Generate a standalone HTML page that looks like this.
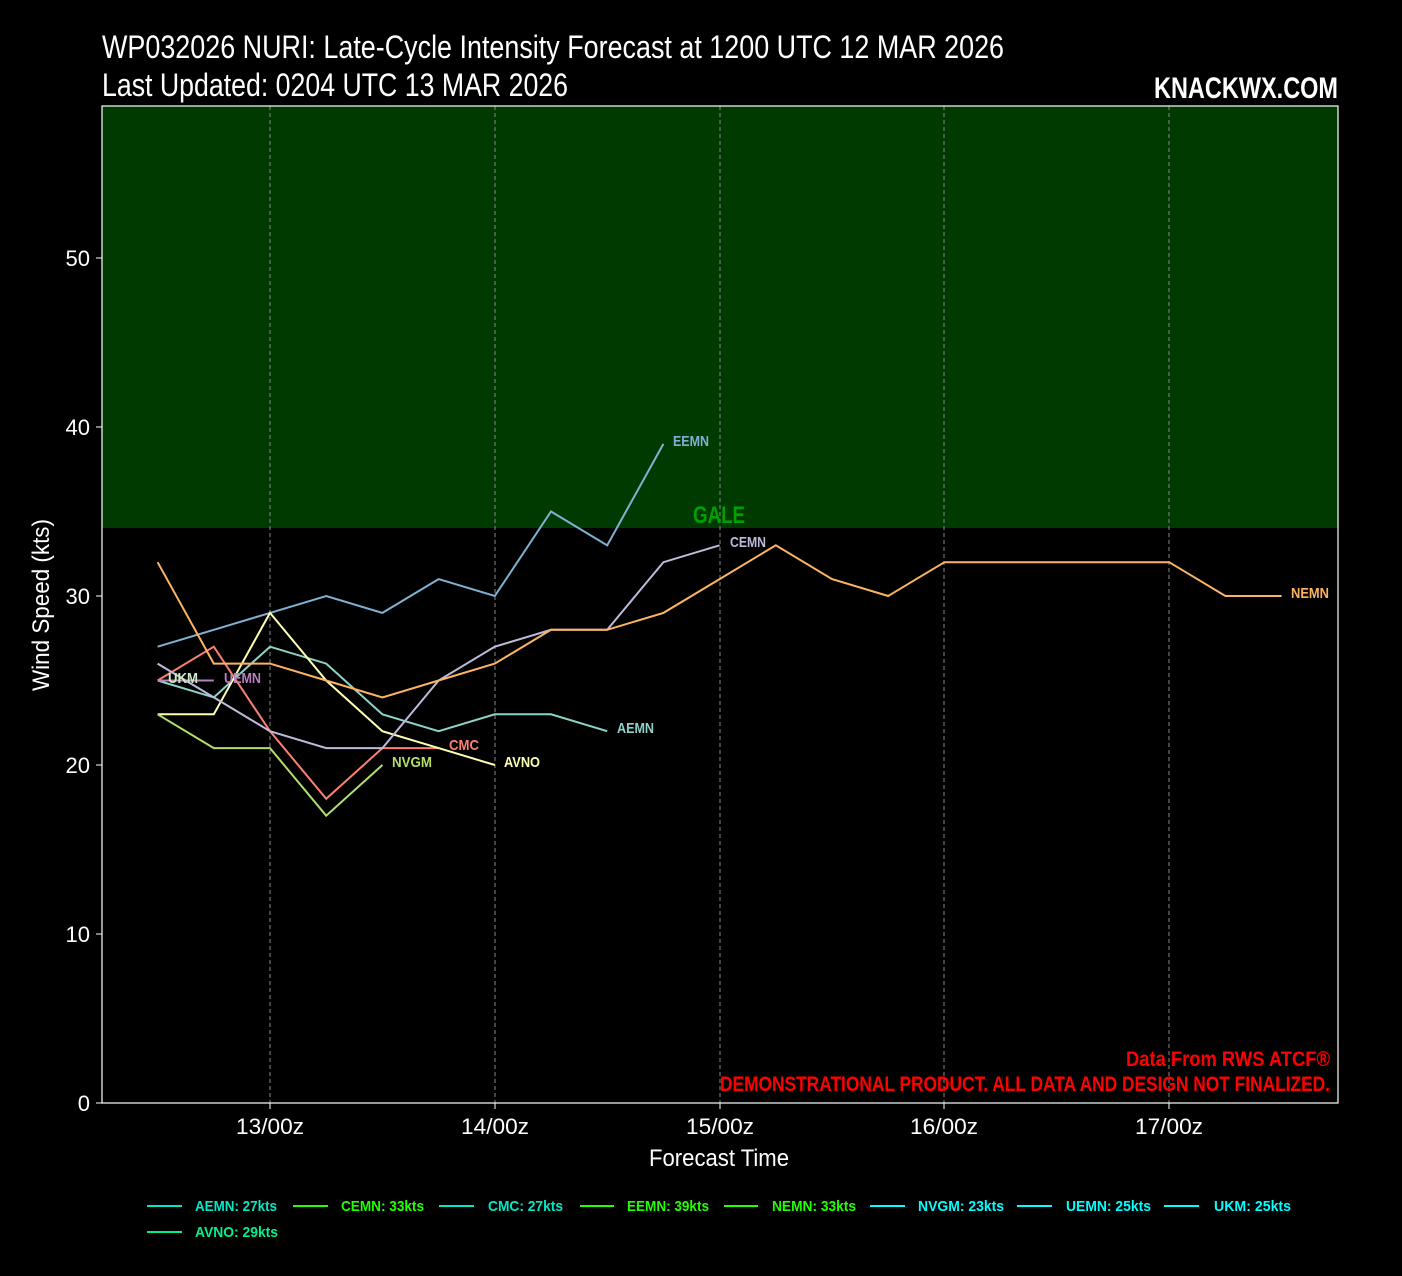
<!DOCTYPE html>
<html><head><meta charset="utf-8"><style>
html,body{margin:0;padding:0;background:#000;}
svg{display:block;}
text{font-family:"Liberation Sans",sans-serif;}
</style></head><body>
<svg width="1402" height="1276" viewBox="0 0 1402 1276" xmlns="http://www.w3.org/2000/svg">
<rect width="1402" height="1276" fill="#000"/>
<rect x="102" y="106" width="1236" height="422" fill="#003a00"/>
<g stroke="#888" stroke-dasharray="4,3" stroke-width="1">
<line x1="270" y1="106" x2="270" y2="1103"/><line x1="495" y1="106" x2="495" y2="1103"/>
<line x1="720" y1="106" x2="720" y2="1103"/><line x1="944" y1="106" x2="944" y2="1103"/>
<line x1="1169" y1="106" x2="1169" y2="1103"/>
</g>
<rect x="102" y="106" width="1236" height="997" fill="none" stroke="#fff" stroke-width="1.2"/>
<text x="719" y="523" fill="#00a000" font-size="24" font-weight="bold" text-anchor="middle" textLength="52" lengthAdjust="spacingAndGlyphs">GALE</text>
<g transform="translate(157.6,1103) scale(56.2,-16.9)" fill="none" stroke-width="2">
<polyline vector-effect="non-scaling-stroke" stroke="#80b1d3" points="0,27 1,28 2,29 3,30 4,29 5,31 6,30 7,35 8,33 9,39"/>
<polyline vector-effect="non-scaling-stroke" stroke="#8dd3c7" points="0,25 1,24 2,27 3,26 4,23 5,22 6,23 7,23 8,22"/>
<polyline vector-effect="non-scaling-stroke" stroke="#fb8072" points="0,25 1,27 2,22 3,18 4,21 5,21"/>
<polyline vector-effect="non-scaling-stroke" stroke="#ffffb3" points="0,23 1,23 2,29 3,25 4,22 5,21 6,20"/>
<polyline vector-effect="non-scaling-stroke" stroke="#b3de69" points="0,23 1,21 2,21 3,17 4,20"/>
<polyline vector-effect="non-scaling-stroke" stroke="#bc80bd" points="0,25 1,25"/>
<polyline vector-effect="non-scaling-stroke" stroke="#bebada" points="0,26 1,24 2,22 3,21 4,21 5,25 6,27 7,28 8,28 9,32 10,33"/>
<polyline vector-effect="non-scaling-stroke" stroke="#fdb462" points="0,32 1,26 2,26 3,25 4,24 5,25 6,26 7,28 8,28 9,29 10,31 11,33 12,31 13,30 14,32 15,32 16,32 17,32 18,32 19,30 20,30"/>
</g>
<g font-size="15" font-weight="bold">
<text x="673" y="446" fill="#80b1d3" textLength="36" lengthAdjust="spacingAndGlyphs">EEMN</text>
<text x="730" y="547" fill="#bebada" textLength="36" lengthAdjust="spacingAndGlyphs">CEMN</text>
<text x="1291" y="598" fill="#fdb462" textLength="38" lengthAdjust="spacingAndGlyphs">NEMN</text>
<text x="168" y="683" fill="#ccebc5" textLength="30" lengthAdjust="spacingAndGlyphs">UKM</text>
<text x="224" y="683" fill="#bc80bd" textLength="37" lengthAdjust="spacingAndGlyphs">UEMN</text>
<text x="617" y="733" fill="#8dd3c7" textLength="37" lengthAdjust="spacingAndGlyphs">AEMN</text>
<text x="449" y="750" fill="#fb8072" textLength="30" lengthAdjust="spacingAndGlyphs">CMC</text>
<text x="392" y="767" fill="#b3de69" textLength="40" lengthAdjust="spacingAndGlyphs">NVGM</text>
<text x="504" y="767" fill="#ffffb3" textLength="36" lengthAdjust="spacingAndGlyphs">AVNO</text>
</g>
<g fill="#fff" font-size="22" text-anchor="end">
<text x="90" y="1111">0</text><text x="90" y="942">10</text><text x="90" y="773">20</text>
<text x="90" y="604">30</text><text x="90" y="435">40</text><text x="90" y="266">50</text>
</g>
<g stroke="#fff"><line x1="96" y1="1103" x2="102" y2="1103"/><line x1="96" y1="934" x2="102" y2="934"/><line x1="96" y1="765" x2="102" y2="765"/><line x1="96" y1="596" x2="102" y2="596"/><line x1="96" y1="427" x2="102" y2="427"/><line x1="96" y1="258" x2="102" y2="258"/>
<line x1="270" y1="1103" x2="270" y2="1109"/><line x1="495" y1="1103" x2="495" y2="1109"/><line x1="720" y1="1103" x2="720" y2="1109"/><line x1="944" y1="1103" x2="944" y2="1109"/><line x1="1169" y1="1103" x2="1169" y2="1109"/></g>
<g fill="#fff" font-size="22" text-anchor="middle">
<text x="270" y="1134" textLength="68" lengthAdjust="spacingAndGlyphs">13/00z</text>
<text x="495" y="1134" textLength="68" lengthAdjust="spacingAndGlyphs">14/00z</text>
<text x="720" y="1134" textLength="68" lengthAdjust="spacingAndGlyphs">15/00z</text>
<text x="944" y="1134" textLength="68" lengthAdjust="spacingAndGlyphs">16/00z</text>
<text x="1169" y="1134" textLength="68" lengthAdjust="spacingAndGlyphs">17/00z</text>
</g>
<text x="719" y="1166" fill="#fff" font-size="24" text-anchor="middle" textLength="140" lengthAdjust="spacingAndGlyphs">Forecast Time</text>
<text transform="translate(49,605) rotate(-90)" fill="#fff" font-size="24" text-anchor="middle" textLength="172" lengthAdjust="spacingAndGlyphs">Wind Speed (kts)</text>
<text x="102" y="58" fill="#fff" font-size="32" textLength="902" lengthAdjust="spacingAndGlyphs">WP032026 NURI: Late-Cycle Intensity Forecast at 1200 UTC 12 MAR 2026</text>
<text x="102" y="96" fill="#fff" font-size="32" textLength="466" lengthAdjust="spacingAndGlyphs">Last Updated: 0204 UTC 13 MAR 2026</text>
<text x="1338" y="98" fill="#fff" font-size="30" font-weight="bold" text-anchor="end" textLength="184" lengthAdjust="spacingAndGlyphs">KNACKWX.COM</text>
<g fill="#ff0000" font-size="21" font-weight="bold" text-anchor="end">
<text x="1330" y="1066" textLength="204" lengthAdjust="spacingAndGlyphs">Data From RWS ATCF®</text>
<text x="1330" y="1091" textLength="610" lengthAdjust="spacingAndGlyphs">DEMONSTRATIONAL PRODUCT. ALL DATA AND DESIGN NOT FINALIZED.</text>
</g>
<g font-size="15" font-weight="bold" stroke-width="2">
<line x1="147" y1="1206" x2="182" y2="1206" stroke="#00e8c8"/><text x="195" y="1211" fill="#00e8c8" textLength="82" lengthAdjust="spacingAndGlyphs">AEMN: 27kts</text>
<line x1="293" y1="1206" x2="328" y2="1206" stroke="#22ff00"/><text x="341" y="1211" fill="#22ff00" textLength="83" lengthAdjust="spacingAndGlyphs">CEMN: 33kts</text>
<line x1="439" y1="1206" x2="474" y2="1206" stroke="#00e8c8"/><text x="488" y="1211" fill="#00e8c8" textLength="75" lengthAdjust="spacingAndGlyphs">CMC: 27kts</text>
<line x1="580" y1="1206" x2="614" y2="1206" stroke="#22ff00"/><text x="627" y="1211" fill="#22ff00" textLength="82" lengthAdjust="spacingAndGlyphs">EEMN: 39kts</text>
<line x1="724" y1="1206" x2="758" y2="1206" stroke="#22ff00"/><text x="772" y="1211" fill="#22ff00" textLength="84" lengthAdjust="spacingAndGlyphs">NEMN: 33kts</text>
<line x1="870" y1="1206" x2="905" y2="1206" stroke="#00ffff"/><text x="918" y="1211" fill="#00ffff" textLength="86" lengthAdjust="spacingAndGlyphs">NVGM: 23kts</text>
<line x1="1017" y1="1206" x2="1052" y2="1206" stroke="#00ffff"/><text x="1066" y="1211" fill="#00ffff" textLength="85" lengthAdjust="spacingAndGlyphs">UEMN: 25kts</text>
<line x1="1164" y1="1206" x2="1199" y2="1206" stroke="#00ffff"/><text x="1214" y="1211" fill="#00ffff" textLength="77" lengthAdjust="spacingAndGlyphs">UKM: 25kts</text>
<line x1="147" y1="1232" x2="182" y2="1232" stroke="#00f090"/><text x="195" y="1237" fill="#00f090" textLength="83" lengthAdjust="spacingAndGlyphs">AVNO: 29kts</text>
</g>
</svg>
</body></html>
